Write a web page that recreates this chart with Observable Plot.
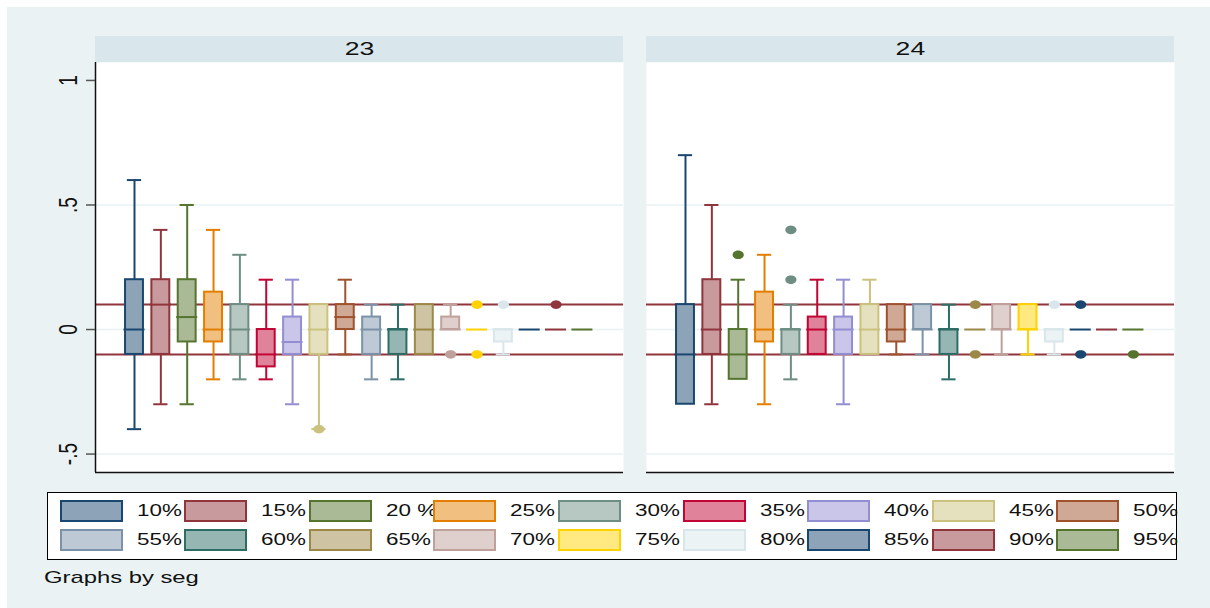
<!DOCTYPE html>
<html><head><meta charset="utf-8">
<script src="https://cdn.jsdelivr.net/npm/d3@7"></script>
<script src="https://cdn.jsdelivr.net/npm/@observablehq/plot@0.6"></script>
<style>
html,body{margin:0;padding:0;background:#fff;width:1210px;height:608px;overflow:hidden;font-family:"Liberation Sans",Arial,sans-serif;}
#bg{position:absolute;left:7px;top:7px;width:1203px;height:601px;background:#eaf2f3;}
#chart{position:absolute;left:0;top:0;}
#legend{position:absolute;left:47px;top:492px;width:1130px;height:68px;box-sizing:border-box;background:#fff;border:1.5px solid #000;}
.sw{position:absolute;width:63px;height:22px;box-sizing:border-box;border:2px solid;}
.lb{position:absolute;font-size:16px;line-height:18px;color:#111;transform:scaleX(1.4);transform-origin:0 50%;white-space:nowrap;}
#note{position:absolute;left:44px;top:568px;font-size:17px;line-height:20px;color:#111;transform:scaleX(1.4);transform-origin:0 50%;white-space:nowrap;}
</style></head>
<body>
<div id="bg"></div>
<div id="chart"></div>
<div id="legend"></div>
<div id="note">Graphs by seg</div>
<script>
// ---- data ----
const segs = [23, 24];
const cats = ["10%","15%","20 %","25%","30%","35%","40%","45%","50%","55%","60%","65%","70%","75%","80%","85%","90%","95%"];

const lw23  = [-0.4,-0.3,-0.3,-0.2,-0.2,-0.2,-0.3,-0.4,-0.1,-0.2,-0.2,-0.1,0,0,-0.1,0,0,0];
const q1_23 = [-0.1,-0.1,-0.05,-0.05,-0.1,-0.15,-0.1,-0.1,0,-0.1,-0.1,-0.1,0,0,-0.05,0,0,0];
const med23 = [0,0.1,0.05,0,0,-0.1,-0.05,0,0.05,0,0,0,0,0,0,0,0,0];
const q3_23 = [0.2,0.2,0.2,0.15,0.1,0,0.05,0.1,0.1,0.05,0,0.1,0.05,0,0,0,0,0];
const uw23  = [0.6,0.4,0.5,0.4,0.3,0.2,0.2,0.1,0.2,0.1,0.1,0.1,0.1,0,0,0,0,0];
const outCat23 = ["45%","70%","75%","75%","80%","90%"];
const outVal23 = [-0.4,-0.1,0.1,-0.1,0.1,0.1];

const lw24  = [-0.3,-0.3,-0.2,-0.3,-0.2,-0.1,-0.3,-0.1,-0.1,-0.1,-0.2,0,-0.1,-0.1,-0.1,0,0,0];
const q1_24 = [-0.3,-0.1,-0.2,-0.05,-0.1,-0.1,-0.1,-0.1,-0.05,0,-0.1,0,0,0,-0.05,0,0,0];
const med24 = [-0.1,0,-0.1,0,0,0,0,0,0,0,0,0,0,0,0,0,0,0];
const q3_24 = [0.1,0.2,0,0.15,0,0.05,0.05,0.1,0.1,0.1,0,0,0.1,0.1,0,0,0,0];
const uw24  = [0.7,0.5,0.2,0.3,0.1,0.2,0.2,0.2,0.1,0.1,0.1,0,0.1,0.1,0,0,0,0];
const outCat24 = ["20 %","30%","30%","65%","65%","80%","85%","85%","95%"];
const outVal24 = [0.3,0.2,0.4,0.1,-0.1,0.1,0.1,-0.1,-0.1];

const refLines = [-0.1, 0.1];
const gridVals = [-0.5, 0, 0.5];
const yTicks = [-0.5, 0, 0.5, 1];
const yTickLabels = ["-.5", "0", ".5", "1"];

// ---- styles ----
const strokeColors = ["#1a476f","#90353b","#55752f","#e37e00","#6e8e84","#c10534","#938dd2","#cac27e","#a0522d","#7b92a8","#2d6d66","#9c8847","#bfa19c","#ffd200","#d9e6eb","#1a476f","#90353b","#55752f"];
const fillColors = strokeColors.map(c => d3.color(d3.interpolateRgb(c, "#ffffff")(0.5)).formatHex());
const xDomain = [-1.48, 18.56];
const yDomain = [-0.574, 1.072];
const BW = 0.34, MW = 0.4, CW = 0.27;

const stats = {
  23: {lw: lw23, q1: q1_23, med: med23, q3: q3_23, uw: uw23, oc: outCat23, ov: outVal23},
  24: {lw: lw24, q1: q1_24, med: med24, q3: q3_24, uw: uw24, oc: outCat24, ov: outVal24}
};
const rows = [], outs = [];
segs.forEach(seg => {
  const s = stats[seg];
  cats.forEach((c, i) => rows.push({seg, i, c, lw: s.lw[i], q1: s.q1[i], med: s.med[i], q3: s.q3[i], uw: s.uw[i]}));
  s.oc.forEach((c, k) => outs.push({seg, i: cats.indexOf(c), v: s.ov[k]}));
});
const up = rows.filter(d => d.uw > d.q3);
const lo = rows.filter(d => d.lw < d.q1);
const boxes = rows.filter(d => d.q3 > d.q1);

const ellipse = {draw(ctx) {
  const rx = 5.6, ry = 4.3, n = 28;
  for (let k = 0; k < n; k++) {
    const a = 2 * Math.PI * k / n, px = rx * Math.cos(a), py = ry * Math.sin(a);
    k ? ctx.lineTo(px, py) : ctx.moveTo(px, py);
  }
  ctx.closePath();
}};

const chart = Plot.plot({
  width: 1210, height: 480,
  marginTop: 62, marginBottom: 8, marginLeft: 95, marginRight: 36,
  style: {background: "transparent", fontFamily: "Liberation Sans, Arial, sans-serif", overflow: "visible", color: "#111"},
  fx: {domain: segs, paddingInner: 23 / 551, paddingOuter: 0, label: null},
  x: {domain: xDomain},
  y: {domain: yDomain},
  marks: [
    Plot.frame({fill: "white", stroke: "none"}),
    Plot.ruleY(gridVals, {stroke: "#eaf2f3", strokeWidth: 1.5}),
    Plot.ruleY(refLines, {stroke: "#90353b", strokeWidth: 2}),
    Plot.ruleX(up, {fx: "seg", x: "i", y1: "q3", y2: "uw", stroke: d => strokeColors[d.i], strokeWidth: 2}),
    Plot.ruleY(up, {fx: "seg", y: "uw", x1: d => d.i - CW, x2: d => d.i + CW, stroke: d => strokeColors[d.i], strokeWidth: 2}),
    Plot.ruleX(lo, {fx: "seg", x: "i", y1: "lw", y2: "q1", stroke: d => strokeColors[d.i], strokeWidth: 2}),
    Plot.ruleY(lo, {fx: "seg", y: "lw", x1: d => d.i - CW, x2: d => d.i + CW, stroke: d => strokeColors[d.i], strokeWidth: 2}),
    Plot.rect(boxes, {fx: "seg", x1: d => d.i - BW, x2: d => d.i + BW, y1: "q1", y2: "q3", fill: d => fillColors[d.i], stroke: d => strokeColors[d.i], strokeWidth: 2}),
    Plot.ruleY(rows, {fx: "seg", y: "med", x1: d => d.i - MW, x2: d => d.i + MW, stroke: d => strokeColors[d.i], strokeWidth: 2}),
    Plot.dot(outs, {fx: "seg", x: "i", y: "v", symbol: ellipse, fill: d => strokeColors[d.i], stroke: "none"}),
    Plot.ruleY([yDomain[0]], {stroke: "#111", strokeWidth: 1.5}),
    Plot.ruleX([segs[0]], {fx: d => d, x: xDomain[0], y1: yDomain[0], y2: yDomain[1], stroke: "#111", strokeWidth: 1.5}),
    Plot.axisFx({anchor: "top", tickSize: 0, tickPadding: 8, fontSize: 19, label: null}),
    Plot.axisY(yTicks, {anchor: "left", tickFormat: d => yTickLabels[yTicks.indexOf(d)], tickSize: 9, tickPadding: 12, tickRotate: -90, fontSize: 19, stroke: "#555", strokeWidth: 1.5, label: null}),
    Plot.axisX({ticks: [], label: null, tickSize: 0})
  ]
});
document.getElementById("chart").appendChild(chart);

// facet strips
const svg = d3.select(chart);
const fxs = chart.scale("fx");
segs.forEach(seg => {
  svg.insert("rect", ":first-child")
    .attr("x", fxs.apply(seg)).attr("y", 36)
    .attr("width", fxs.bandwidth).attr("height", 26)
    .attr("fill", "#d9e6eb");
});
// horizontal stretch of texts (as in the reference)
svg.selectAll("text").each(function() {
  const g = document.createElementNS("http://www.w3.org/2000/svg", "g");
  this.parentNode.insertBefore(g, this);
  g.appendChild(this);
  const b = g.getBBox();
  const cx = b.x + b.width / 2;
  g.setAttribute("transform", `translate(${cx},0) scale(1.4,1) translate(${-cx},0)`);
});

// legend
const legend = d3.select("#legend");
cats.forEach((c, k) => {
  const col = k % 9, row = Math.floor(k / 9);
  const left = 11.5 + 124.6 * col, top = 6.5 + 29 * row;
  legend.append("div").attr("class", "sw")
    .style("left", left + "px").style("top", top + "px")
    .style("border-color", strokeColors[k]).style("background", fillColors[k]);
  legend.append("div").attr("class", "lb")
    .style("left", (left + 77) + "px").style("top", (top + 2) + "px")
    .text(c);
});
</script>
</body></html>
